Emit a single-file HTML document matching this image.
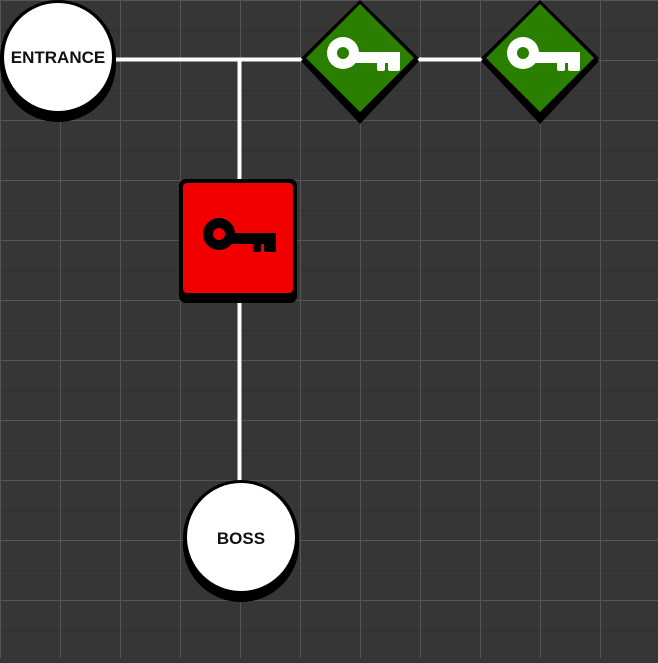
<!DOCTYPE html>
<html><head><style>html,body{margin:0;padding:0;background:#363636}</style></head>
<body>
<svg width="658" height="658" xmlns="http://www.w3.org/2000/svg">
<defs>
<pattern id="grid" width="60" height="60" patternUnits="userSpaceOnUse">
<path d="M0 30.5H60" stroke="#2f2f2f" stroke-width="1" fill="none"/>
<path d="M0.5 0V60M0 0.5H60" stroke="#555" stroke-width="1" fill="none"/>
</pattern>
<g id="key">
<path fill-rule="evenodd" d="M0,-16 A16,16 0 1,1 0,16 A16,16 0 1,1 0,-16 Z M0,-6 A6,6 0 1,0 0,6 A6,6 0 1,0 0,-6 Z"/>
<rect x="10" y="-1" width="47" height="11"/>
<rect x="34" y="8" width="8" height="10" rx="2"/>
<rect x="45" y="8" width="12" height="10" rx="2"/>
</g>
</defs>
<rect width="658" height="658" fill="#363636"/>
<rect width="658" height="658" fill="url(#grid)"/>
<path d="M110 59.5H540M239.5 59.5V490" stroke="#fff" stroke-width="4" fill="none"/>
<circle cx="58" cy="64" r="58" fill="#000"/>
<circle cx="58" cy="58" r="58" fill="#000"/>
<circle cx="58" cy="57" r="54" fill="#fff"/>
<text x="58" y="63" text-anchor="middle" font-family="Liberation Sans, sans-serif" font-weight="bold" font-size="17" fill="#111">ENTRANCE</text>
<circle cx="241" cy="544" r="58" fill="#000"/>
<circle cx="241" cy="538" r="58" fill="#000"/>
<circle cx="241" cy="537" r="54" fill="#fff"/>
<text x="241" y="544" text-anchor="middle" font-family="Liberation Sans, sans-serif" font-weight="bold" font-size="17" fill="#111">BOSS</text>
<rect x="179" y="185" width="118" height="118" rx="7" fill="#000"/>
<rect x="179" y="179" width="118" height="118" rx="7" fill="#000"/>
<rect x="183" y="183" width="110" height="110" rx="4" fill="#f20000"/>
<use href="#key" transform="translate(219,234)" fill="#000"/>
<g transform="translate(360,58)">
<path d="M0,-58 L59,1 L0,64 L-59,1 Z" fill="#000" transform="translate(0,2)"/>
<path d="M0,-58 L59,0 L0,58 L-59,0 Z" fill="#000"/>
<path d="M0,-54 L54,0 L0,54 L-54,0 Z" fill="#2a7f00"/>
<use href="#key" transform="translate(-17,-5)" fill="#fff"/>
</g>
<g transform="translate(540,58)">
<path d="M0,-58 L59,1 L0,64 L-59,1 Z" fill="#000" transform="translate(0,2)"/>
<path d="M0,-58 L59,0 L0,58 L-59,0 Z" fill="#000"/>
<path d="M0,-54 L54,0 L0,54 L-54,0 Z" fill="#2a7f00"/>
<use href="#key" transform="translate(-17,-5)" fill="#fff"/>
</g>
</svg>
</body></html>
